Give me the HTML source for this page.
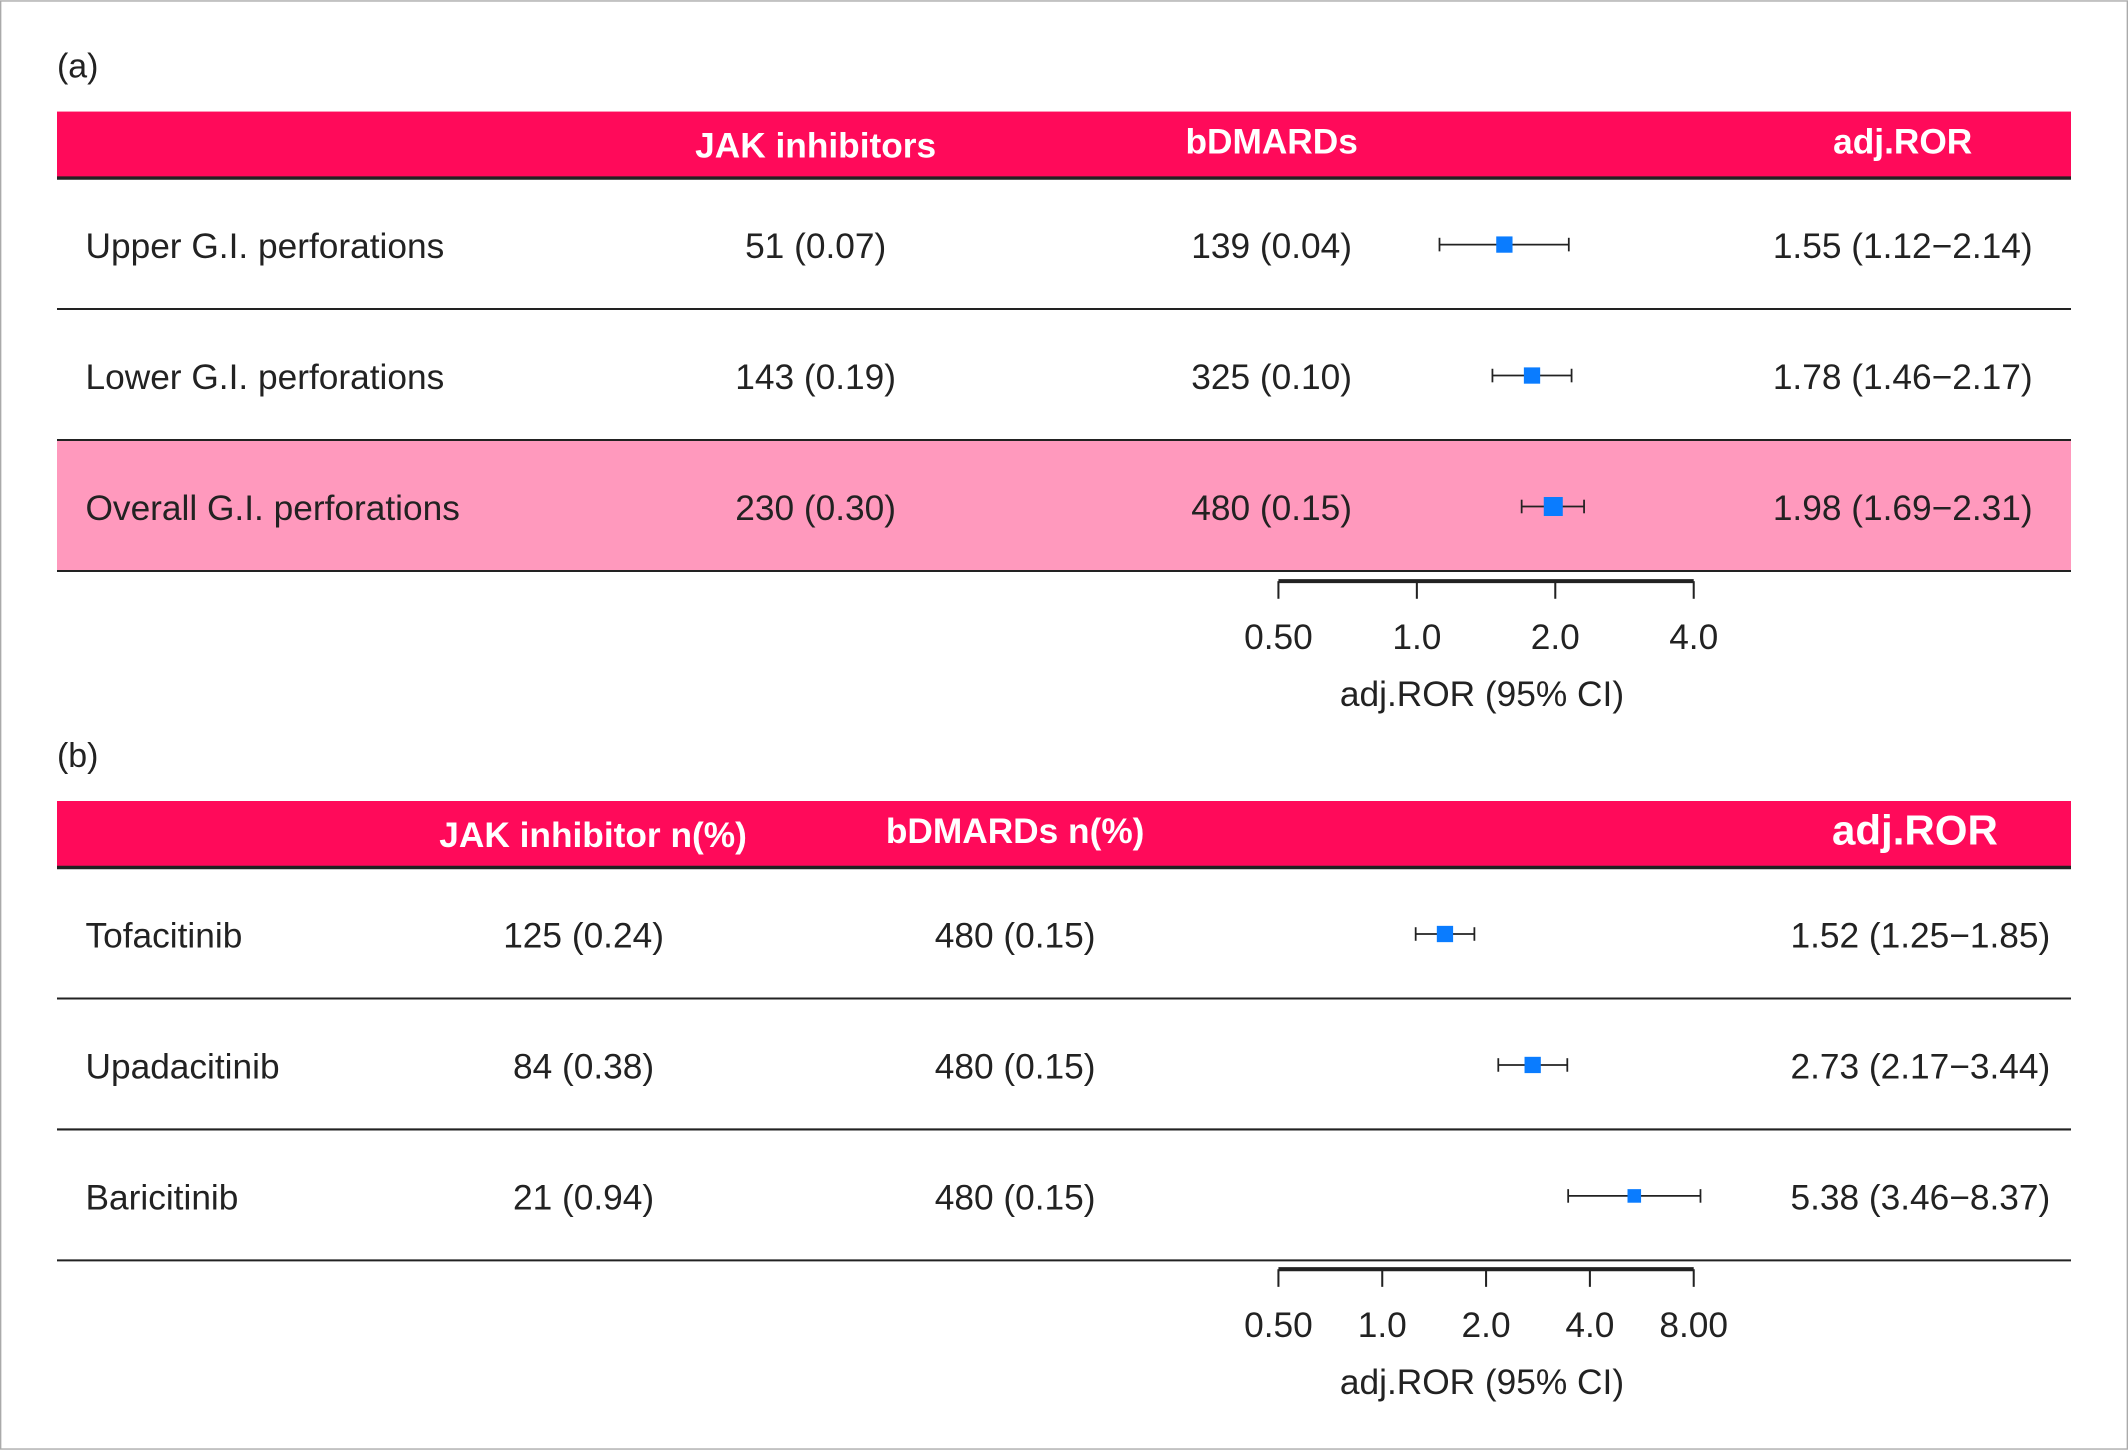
<!DOCTYPE html>
<html><head><meta charset="utf-8"><style>
html,body{margin:0;padding:0;background:#fff}
svg{display:block}
text{font-family:"Liberation Sans",sans-serif}
</style></head><body>
<svg id="chart" width="2128" height="1450" viewBox="0 0 1568 1068" xmlns="http://www.w3.org/2000/svg">
<rect x="0.5" y="0.5" width="1567" height="1067" fill="#fff" stroke="#aaa" stroke-width="1"/>
<g id="pa">
<text x="42" y="57" font-size="25" fill="#222">(a)</text>
<rect x="42" y="82" width="1484" height="48" fill="#ff0a5a"/>
<line x1="42" x2="1526" y1="131" y2="131" stroke="#222" stroke-width="2.5"/>
<text x="601" y="116" font-size="26" font-weight="bold" fill="#fff" text-anchor="middle">JAK inhibitors</text>
<text x="937" y="113" font-size="26" font-weight="bold" fill="#fff" text-anchor="middle">bDMARDs</text>
<text x="1402" y="113" font-size="26" font-weight="bold" fill="#fff" text-anchor="middle">adj.ROR</text>
<rect x="42" y="324" width="1484" height="97" fill="#ff99bd"/>
</g>
<g id="pb">
<text x="42" y="565" font-size="25" fill="#222">(b)</text>
<rect x="42" y="590" width="1484" height="48" fill="#ff0a5a"/>
<line x1="42" x2="1526" y1="639" y2="639" stroke="#222" stroke-width="2.5"/>
<text x="437" y="624" font-size="26" font-weight="bold" fill="#fff" text-anchor="middle">JAK inhibitor n(%)</text>
<text x="748" y="621" font-size="26" font-weight="bold" fill="#fff" text-anchor="middle">bDMARDs n(%)</text>
<text x="1411" y="622" font-size="31" font-weight="bold" fill="#fff" text-anchor="middle">adj.ROR</text>
</g>
</svg>
<script>
const aLabels=["Upper G.I. perforations","Lower G.I. perforations","Overall G.I. perforations"];
const aJak=["51 (0.07)","143 (0.19)","230 (0.30)"];
const aBd=["139 (0.04)","325 (0.10)","480 (0.15)"];
const aRor=[1.55,1.78,1.98];
const aLo=[1.12,1.46,1.69];
const aHi=[2.14,2.17,2.31];
const aTicks=[0.5,1,2,4];
const aTickLabels=["0.50","1.0","2.0","4.0"];
const bLabels=["Tofacitinib","Upadacitinib","Baricitinib"];
const bJak=["125 (0.24)","84 (0.38)","21 (0.94)"];
const bBd=["480 (0.15)","480 (0.15)","480 (0.15)"];
const bRor=[1.52,2.73,5.38];
const bLo=[1.25,2.17,3.46];
const bHi=[1.85,3.44,8.37];
const bTicks=[0.5,1,2,4,8];
const bTickLabels=["0.50","1.0","2.0","4.0","8.00"];
const NS="http://www.w3.org/2000/svg";
function mk(parent,tag,attrs,txt){const e=document.createElementNS(NS,tag);for(const k in attrs)e.setAttribute(k,attrs[k]);if(txt!==undefined)e.textContent=txt;parent.appendChild(e);return e;}
function fmt(v){return v.toFixed(2);}
function panel(g,cfg){
  const x0=942,x1=1248;
  const lmin=Math.log2(cfg.ticks[0]),lmax=Math.log2(cfg.ticks[cfg.ticks.length-1]);
  const sx=v=>x0+(Math.log2(v)-lmin)/(lmax-lmin)*(x1-x0);
  for(let i=0;i<cfg.labels.length;i++){
    const top=cfg.top+i*96.5;
    const tb=top+59, my=top+cfg.markOff;
    let t=mk(g,'text',{x:63,y:tb,'font-size':26,fill:'#222'},cfg.labels[i]);
    
    
    t=mk(g,'text',{x:cfg.jx,y:tb,'font-size':26,fill:'#222','text-anchor':'middle'},cfg.jak[i]);
    
    
    t=mk(g,'text',{x:cfg.bx,y:tb,'font-size':26,fill:'#222','text-anchor':'middle'},cfg.bd[i]);
    
    
    t=mk(g,'text',{x:cfg.rx,y:tb,'font-size':26,fill:'#222','text-anchor':'middle'},fmt(cfg.ror[i])+" ("+fmt(cfg.lo[i])+"\u2212"+fmt(cfg.hi[i])+")");
    
    
    const l=mk(g,'line',{x1:sx(cfg.lo[i]),x2:sx(cfg.hi[i]),y1:my,y2:my,stroke:'#222','stroke-width':1.3});
    
    
    for(const v of [cfg.lo[i],cfg.hi[i]]){const c=mk(g,'line',{x1:sx(v),x2:sx(v),y1:my-5,y2:my+5,stroke:'#222','stroke-width':1.3});
      
      }
    const s=cfg.sizes[i];
    const r=mk(g,'rect',{x:sx(cfg.ror[i])-s/2,y:my-s/2,width:s,height:s,fill:'#0a7cff'});
    
    
    const ln=mk(g,'line',{x1:42,x2:1526,y1:top+96.5,y2:top+96.5,stroke:'#222','stroke-width':1.5});
    
    
  }
  const ay=cfg.axisY;
  const ax=mk(g,'line',{x1:x0,x2:x1,y1:ay,y2:ay,stroke:'#222','stroke-width':3});
  
  
  cfg.ticks.forEach((v,i)=>{
    const tk=mk(g,'line',{x1:sx(v),x2:sx(v),y1:ay,y2:ay+13,stroke:'#222','stroke-width':1.5});
    
    
    const tl=mk(g,'text',{x:sx(v),y:ay+50,'font-size':26,fill:'#222','text-anchor':'middle'},cfg.tickLabels[i]);
    
    
  });
  const tt=mk(g,'text',{x:1092,y:ay+92,'font-size':26,fill:'#222','text-anchor':'middle'},"adj.ROR (95% CI)");
  
  
}
panel(document.getElementById('pa'),{labels:aLabels,jak:aJak,bd:aBd,ror:aRor,lo:aLo,hi:aHi,ticks:aTicks,tickLabels:aTickLabels,top:131,markOff:49,jx:601,bx:937,rx:1402,axisY:428,sizes:[12,12,14]});
panel(document.getElementById('pb'),{labels:bLabels,jak:bJak,bd:bBd,ror:bRor,lo:bLo,hi:bHi,ticks:bTicks,tickLabels:bTickLabels,top:639,markOff:49,jx:430,bx:748,rx:1415,axisY:935,sizes:[12,12,10]});
</script>
</body></html>
